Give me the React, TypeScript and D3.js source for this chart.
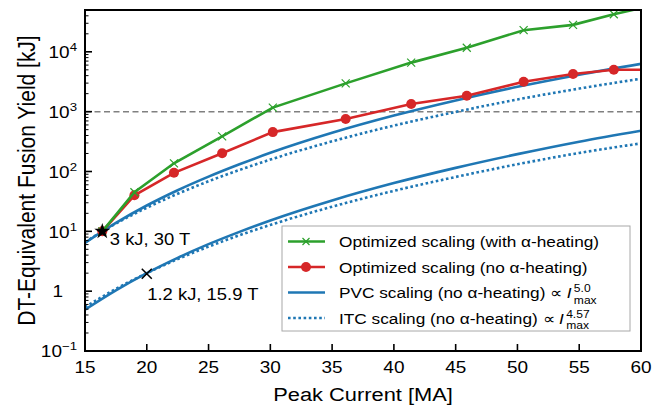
import React from "react";
import * as d3 from "d3";

// Optimized-design points (shared peak currents, MA) and their yields (kJ)
const optimizedCurrent = [16.4, 19.0, 22.2, 26.1, 30.2, 36.1, 41.4, 45.9, 50.5, 54.5, 57.8, 61.0];
const yieldWithAlpha = [10, 45, 137, 387, 1170, 2970, 6600, 11700, 23000, 28200, 42400, 60000];
const yieldNoAlpha = [10, 40, 95, 202, 455, 755, 1340, 1850, 3160, 4250, 5010, 5000];

// Scaling-law curves sampled across the current range
const scalingCurrent = [15, 17.5, 20, 22.5, 25, 27.5, 30, 35, 40, 45, 50, 55, 60];
const pvcFromStar = [6.4, 13.8, 27, 48.6, 82, 132, 205, 443, 860, 1540, 2600, 4150, 6300];
const itcFromStar = [6.6, 13.5, 24.8, 42.4, 68.7, 106, 158, 319, 585, 990, 1600, 2430, 3550];
const pvcFromCross = [0.49, 1.03, 2, 3.6, 6.1, 9.8, 15.2, 32.8, 64, 115, 195, 315, 480];
const itcFromCross = [0.54, 1.09, 2, 3.43, 5.55, 8.6, 12.8, 25.8, 47.5, 81, 132, 204, 295];

// Annotated design points
const starCurrent = 16.4;
const starYield = 10;
const starLabel = "3 kJ, 30 T";
const crossCurrent = 20;
const crossYield = 1.95;
const crossLabel = "1.2 kJ, 15.9 T";

const referenceYield = 1000;

const xTicks = [15, 20, 25, 30, 35, 40, 45, 50, 55, 60];
const yTickValues = [0.1, 1, 10, 100, 1000, 10000];
const yTickBases = ["10", "1", "10", "10", "10", "10"];
const yTickExps = ["\u22121", "", "1", "2", "3", "4"];

const legendLabels = [
  "Optimized scaling (with \u03b1-heating)",
  "Optimized scaling (no \u03b1-heating)",
  "PVC scaling (no \u03b1-heating) \u221d ",
  "ITC scaling (no \u03b1-heating) \u221d ",
];
const legendExponents = ["", "", "5.0", "4.57"];

const GREEN = "#2ca02c";
const RED = "#d62728";
const BLUE = "#1f77b4";
const FONT = "'Liberation Sans', Arial, Helvetica, sans-serif";
const SX = 1.15;

const W = 666;
const H = 410;
const plot = { left: 85, right: 641, top: 10, bottom: 351 };

function SText(props: {
  x: number;
  y: number;
  size: number;
  anchor?: string;
  children: React.ReactNode;
}) {
  return (
    <g transform={`translate(${props.x},${props.y}) scale(${SX},1)`}>
      <text textAnchor={props.anchor || "start"} fontSize={props.size} fill="#000">
        {props.children}
      </text>
    </g>
  );
}

export default function App() {
  const x = d3.scaleLinear().domain([15, 60]).range([plot.left, plot.right]);
  const y = d3.scaleLog().domain([0.1, 5e4]).range([plot.bottom, plot.top]);

  const smooth = d3
    .line<[number, number]>()
    .x((d) => x(d[0]))
    .y((d) => y(d[1]))
    .curve(d3.curveMonotoneX);
  const straight = d3
    .line<[number, number]>()
    .x((d) => x(d[0]))
    .y((d) => y(d[1]));

  const zipScan = (vals: number[]) => scalingCurrent.map((c, i) => [c, vals[i]] as [number, number]);
  const zipOpt = (vals: number[]) => optimizedCurrent.map((c, i) => [c, vals[i]] as [number, number]);

  const minorTicks: number[] = [];
  for (let k = -1; k <= 4; k++) {
    for (let m = 2; m <= 9; m++) {
      const v = m * Math.pow(10, k);
      if (v < 5e4) minorTicks.push(v);
    }
  }

  const star = d3.symbol().type(d3.symbolStar).size(80)();
  const legendX0 = 282;
  const legendY0 = 226;
  const legendRowY = [241.5, 267, 292.5, 318];

  return (
    <svg
      width={W}
      height={H}
      style={{ position: "absolute", left: 0, top: 0, background: "#fff" }}
      fontFamily={FONT}
    >
      <defs>
        <clipPath id="plot-area">
          <rect x={plot.left} y={plot.top} width={plot.right - plot.left} height={plot.bottom - plot.top} />
        </clipPath>
      </defs>

      <g clipPath="url(#plot-area)">
        <line
          x1={plot.left}
          x2={plot.right}
          y1={y(referenceYield)}
          y2={y(referenceYield)}
          stroke="#808080"
          strokeWidth={1.5}
          strokeDasharray="6,3.5"
        />
        <path d={smooth(zipScan(pvcFromStar)) || ""} fill="none" stroke={BLUE} strokeWidth={2.6} />
        <path d={smooth(zipScan(pvcFromCross)) || ""} fill="none" stroke={BLUE} strokeWidth={2.6} />
        <path d={smooth(zipScan(itcFromStar)) || ""} fill="none" stroke={BLUE} strokeWidth={2.6} strokeDasharray="2.6,2.6" />
        <path d={smooth(zipScan(itcFromCross)) || ""} fill="none" stroke={BLUE} strokeWidth={2.6} strokeDasharray="2.6,2.6" />

        <path d={straight(zipOpt(yieldNoAlpha)) || ""} fill="none" stroke={RED} strokeWidth={2.6} />
        {optimizedCurrent.map((c, i) => (
          <circle key={`r${i}`} cx={x(c)} cy={y(yieldNoAlpha[i])} r={5} fill={RED} />
        ))}
        <path d={straight(zipOpt(yieldWithAlpha)) || ""} fill="none" stroke={GREEN} strokeWidth={2.6} />
        {optimizedCurrent.map((c, i) => {
          const cx = x(c);
          const cy = y(yieldWithAlpha[i]);
          const s = 4;
          return (
            <path
              key={`g${i}`}
              d={`M${cx - s},${cy - s}L${cx + s},${cy + s}M${cx - s},${cy + s}L${cx + s},${cy - s}`}
              stroke={GREEN}
              strokeWidth={1.2}
            />
          );
        })}

        <path d={star} transform={`translate(${x(starCurrent)},${y(starYield)})`} fill="#000" />
        <path
          d={`M${x(crossCurrent) - 5},${y(crossYield) - 5}L${x(crossCurrent) + 5},${y(crossYield) + 5}M${x(crossCurrent) - 5},${y(crossYield) + 5}L${x(crossCurrent) + 5},${y(crossYield) - 5}`}
          stroke="#000"
          strokeWidth={1.5}
        />
      </g>

      {/* annotations */}
      <SText x={x(starCurrent) + 7.5} y={y(starYield) + 14} size={16}>
        {starLabel}
      </SText>
      <SText x={x(crossCurrent) + 0.5} y={y(crossYield) + 26} size={16}>
        {crossLabel}
      </SText>

      {/* legend */}
      <rect
        x={legendX0}
        y={legendY0}
        width={630 - legendX0}
        height={331 - legendY0}
        fill="#fff"
        fillOpacity={0.85}
        stroke="#a8a8a8"
        strokeWidth={1}
      />
      {legendLabels.map((label, i) => {
        const ly = legendRowY[i];
        const color = i === 0 ? GREEN : i === 1 ? RED : BLUE;
        return (
          <g key={`leg${i}`}>
            <line
              x1={288}
              x2={325}
              y1={ly}
              y2={ly}
              stroke={color}
              strokeWidth={2.6}
              strokeDasharray={i === 3 ? "2.6,2.6" : undefined}
            />
            {i === 0 && (
              <path d={`M302.5,${ly - 3.5}L309.5,${ly + 3.5}M302.5,${ly + 3.5}L309.5,${ly - 3.5}`} stroke={GREEN} strokeWidth={1.2} />
            )}
            {i === 1 && <circle cx={306} cy={ly} r={5} fill={RED} />}
            <SText x={339} y={ly + 5.5} size={15}>
              {label}
              {legendExponents[i] && (
                <>
                  <tspan fontStyle="italic">I</tspan>
                  <tspan dx={2} dy={-6} fontSize={10.5}>
                    {legendExponents[i]}
                  </tspan>
                  <tspan dx={-(legendExponents[i].length === 3 ? 14.6 : 20.4)} dy={11.5} fontSize={10.5}>
                    max
                  </tspan>
                </>
              )}
            </SText>
          </g>
        );
      })}

      {/* axes frame */}
      <rect
        x={plot.left}
        y={plot.top}
        width={plot.right - plot.left}
        height={plot.bottom - plot.top}
        fill="none"
        stroke="#000"
        strokeWidth={2}
      />

      {/* x ticks */}
      {xTicks.map((t) => (
        <g key={`xt${t}`}>
          <line x1={x(t)} x2={x(t)} y1={plot.bottom} y2={plot.bottom - 7} stroke="#000" strokeWidth={1.6} />
          <SText x={x(t)} y={plot.bottom + 22} size={16.5} anchor="middle">
            {t}
          </SText>
        </g>
      ))}

      {/* y ticks */}
      {minorTicks.map((v) => (
        <line key={`ym${v}`} x1={plot.left} x2={plot.left + 3.5} y1={y(v)} y2={y(v)} stroke="#000" strokeWidth={1} />
      ))}
      {yTickValues.map((v, i) => (
        <g key={`yt${v}`}>
          <line x1={plot.left} x2={plot.left + 7} y1={y(v)} y2={y(v)} stroke="#000" strokeWidth={1.6} />
          {yTickExps[i] ? (
            <SText x={77} y={y(v) + 6.3} size={16.5} anchor="end">
              {yTickBases[i]}
              <tspan dy={-7} fontSize={11.5}>
                {yTickExps[i]}
              </tspan>
            </SText>
          ) : (
            <SText x={63} y={y(v) + 6.3} size={16.5} anchor="end">
              {yTickBases[i]}
            </SText>
          )}
        </g>
      ))}

      {/* axis titles */}
      <SText x={(plot.left + plot.right) / 2} y={401} size={19} anchor="middle">
        Peak Current [MA]
      </SText>
      <g transform={`translate(35,${(plot.top + plot.bottom) / 2}) scale(${SX},1) rotate(-90)`}>
        <text textAnchor="middle" fontSize={21} fill="#000">
          DT-Equivalent Fusion Yield [kJ]
        </text>
      </g>
    </svg>
  );
}
